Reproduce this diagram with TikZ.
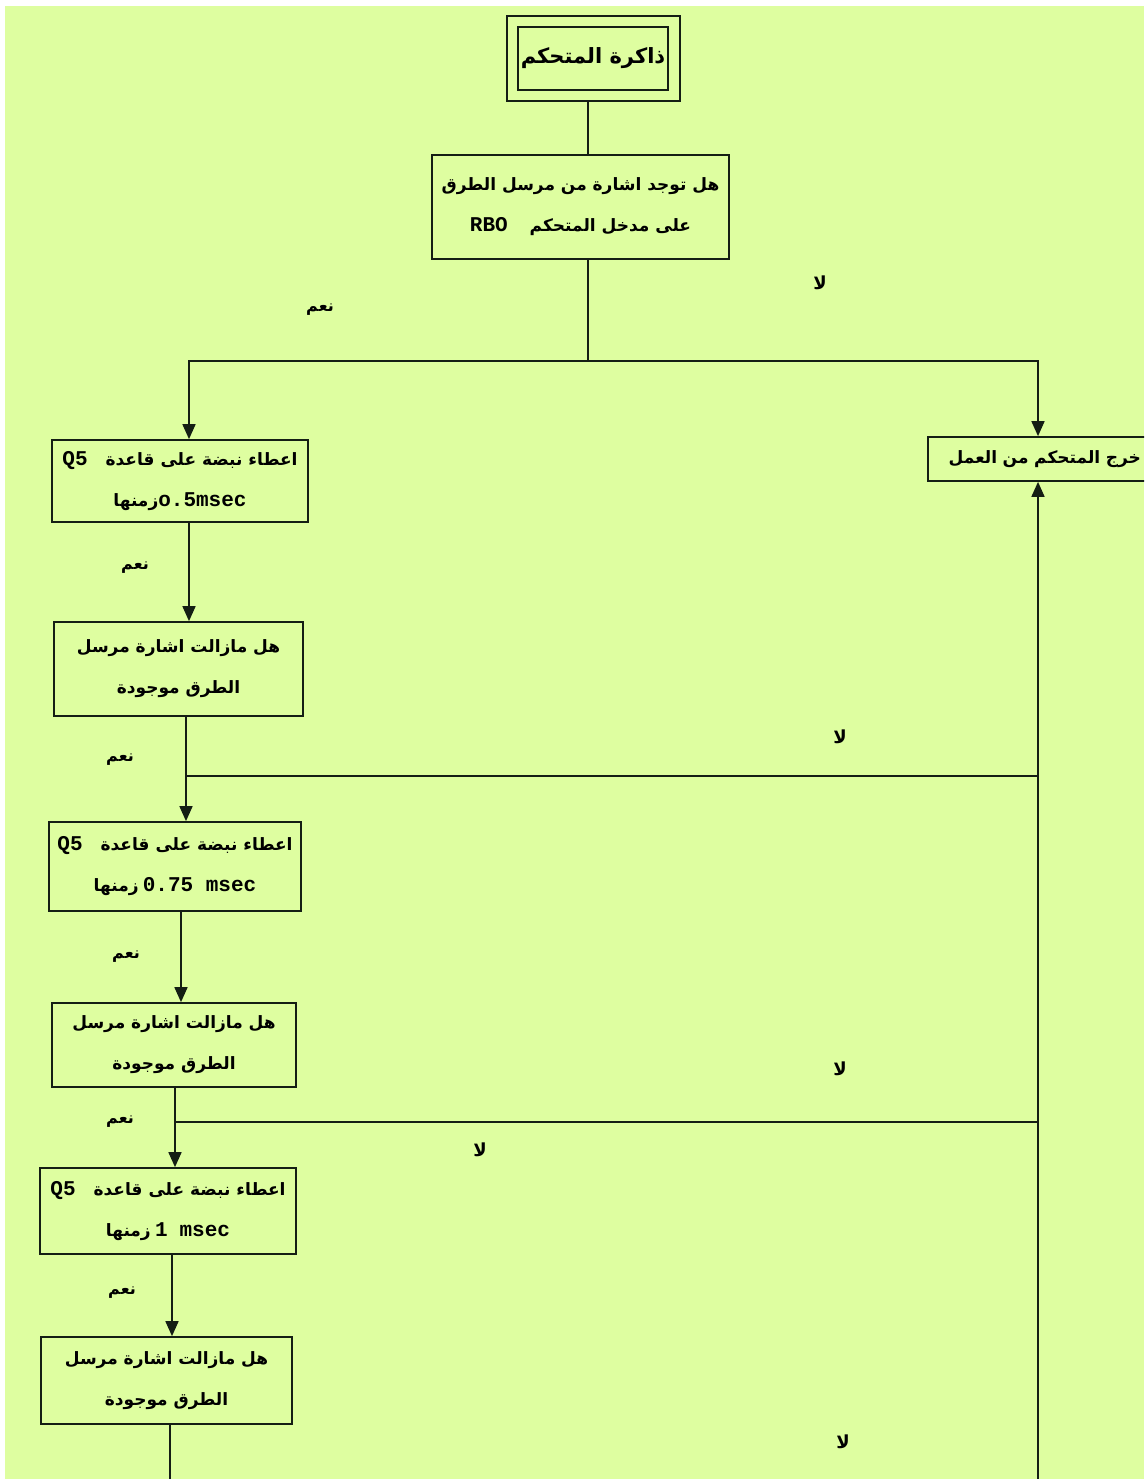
\documentclass[tikz,border=0pt]{standalone}
\usepackage{fontspec}
\TeXXeTstate=1
\setmainfont{Liberation Serif}
\newfontfamily\arfont[Script=Arabic]{DejaVu Sans}
\newfontfamily\latfont{Liberation Mono}
\usetikzlibrary{arrows.meta}
\definecolor{bg}{RGB}{222,254,160}
\definecolor{ink}{RGB}{20,30,20}
\newcommand\AR[1]{{\arfont\bfseries\beginR #1\endR}}
\newcommand\LT[1]{{\latfont\bfseries\fontsize{21}{40}\selectfont #1}}
\begin{document}
\begin{tikzpicture}[x=1pt,y=-1pt,
  box/.style={draw=ink, line width=1.7pt, align=center, inner sep=0pt,
    font=\fontsize{17}{41}\selectfont},
  conn/.style={draw=ink, line width=1.6pt},
  arr/.style={conn, -{Triangle[length=15pt,width=13pt]}},
  lbl/.style={inner sep=0pt, font=\fontsize{16}{16}\selectfont}]
\useasboundingbox (0,0) rectangle (1144,1479);
\clip (0,0) rectangle (1144,1479);
\fill[bg] (5,6) rectangle (1144,1479);

% column coordinates
\coordinate (xm) at (588,0);
\coordinate (c3) at (189,0);
\coordinate (c4) at (186,0);
\coordinate (c5) at (181,0);
\coordinate (c6) at (175,0);
\coordinate (c7) at (172,0);
\coordinate (c8) at (170,0);
\coordinate (xr) at (1038,0);

% nodes
\node[box, minimum width=173pt, minimum height=85pt] (topo) at (593.5,58.5) {};
\node[box, minimum width=150pt, minimum height=63pt, font=\fontsize{21}{26}\selectfont] (top) at (593,58.5) {\AR{ذاكرة المتحكم}};
\node[box, minimum width=297pt, minimum height=104pt] (b2) at (580.5,207)
  {\AR{هل توجد اشارة من مرسل الطرق}\\ \LT{RBO}\hspace{22pt}\AR{على مدخل المتحكم}};
\node[box, minimum width=232pt, minimum height=44pt, text width=194pt, align=right, font=\fontsize{17}{20}\selectfont] (exit) at (1044,459)
  {\AR{خرج المتحكم من العمل}};
\node[box, minimum width=256pt, minimum height=82pt] (b3) at (180,481)
  {\LT{Q5}\hspace{18pt}\AR{اعطاء نبضة على قاعدة}\\ \AR{زمنها}\LT{o.5msec}};
\node[box, minimum width=249pt, minimum height=94pt] (b4) at (178.5,669)
  {\AR{هل مازالت اشارة مرسل}\\ \AR{الطرق موجودة}};
\node[box, minimum width=252pt, minimum height=89pt] (b5) at (175,866.5)
  {\LT{Q5}\hspace{18pt}\AR{اعطاء نبضة على قاعدة}\\ \AR{زمنها} \LT{0.75 msec}};
\node[box, minimum width=244pt, minimum height=84pt] (b6) at (174,1045)
  {\AR{هل مازالت اشارة مرسل}\\ \AR{الطرق موجودة}};
\node[box, minimum width=256pt, minimum height=86pt] (b7) at (168,1211)
  {\LT{Q5}\hspace{18pt}\AR{اعطاء نبضة على قاعدة}\\ \AR{زمنها} \LT{1\hspace{12pt}msec}};
\node[box, minimum width=251pt, minimum height=87pt] (b8) at (166.5,1380.5)
  {\AR{هل مازالت اشارة مرسل}\\ \AR{الطرق موجودة}};

% junction coordinates
\coordinate (s1) at (588,361);
\coordinate (j1) at (186,776);
\coordinate (j2) at (175,1122);
\coordinate (bot) at (1038,1479);
\coordinate (bot8) at (170,1479);

% connectors
\draw[conn] (topo.south -| xm) -- (b2.north -| xm);
\draw[conn] (b2.south -| xm) -- (s1);
\draw[arr] (s1) -| (b3.north -| c3);
\draw[arr] (s1) -| (exit.north -| xr);
\draw[arr] (bot) -- (exit.south -| xr);
\draw[arr] (b3.south -| c3) -- (b4.north -| c3);
\draw[arr] (b4.south -| c4) -- (b5.north -| c4);
\draw[conn] (j1) -- (j1 -| xr);
\draw[arr] (b5.south -| c5) -- (b6.north -| c5);
\draw[arr] (b6.south -| c6) -- (b7.north -| c6);
\draw[conn] (j2) -- (j2 -| xr);
\draw[arr] (b7.south -| c7) -- (b8.north -| c7);
\draw[conn] (b8.south -| c8) -- (bot8);

% labels
\node[lbl] (y1) at (320,310) {\AR{نعم}};
\node[lbl] (y2) at (135,568) {\AR{نعم}};
\node[lbl] (y3) at (120,760) {\AR{نعم}};
\node[lbl] (y4) at (126,957) {\AR{نعم}};
\node[lbl] (y5) at (120,1122) {\AR{نعم}};
\node[lbl] (y6) at (122,1293) {\AR{نعم}};
\node[lbl, font=\fontsize{18}{18}\selectfont] (n1) at (820,283) {\AR{لا}};
\node[lbl, font=\fontsize{18}{18}\selectfont] (n2) at (840,737) {\AR{لا}};
\node[lbl, font=\fontsize{18}{18}\selectfont] (n3) at (840,1069) {\AR{لا}};
\node[lbl, font=\fontsize{18}{18}\selectfont] (n4) at (480,1150) {\AR{لا}};
\node[lbl, font=\fontsize{18}{18}\selectfont] (n5) at (843,1442) {\AR{لا}};
\end{tikzpicture}
\end{document}
